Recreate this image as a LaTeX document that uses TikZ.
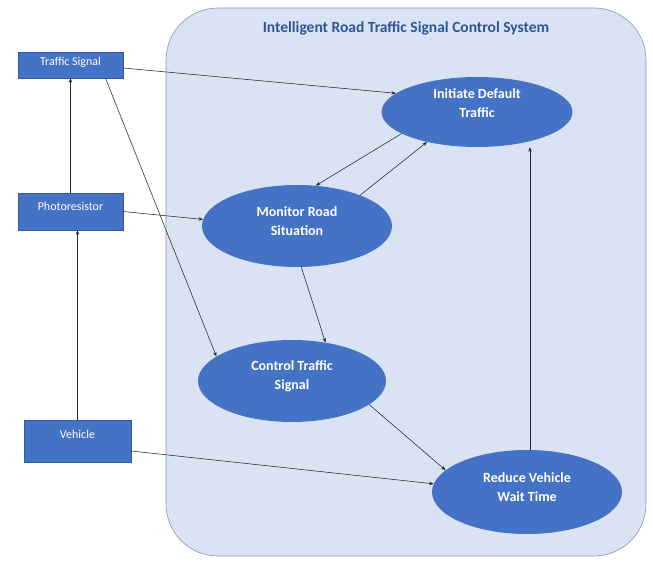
\documentclass[tikz,border=0pt]{standalone}
\usepackage{fontspec}
\setmainfont{Carlito}
\usetikzlibrary{arrows.meta,shapes.geometric}
\definecolor{nodeblue}{HTML}{4472C4}
\definecolor{sysfill}{HTML}{DAE3F3}
\definecolor{sysline}{HTML}{8497B0}
\definecolor{titleblue}{HTML}{2F5597}
\newcommand\liftup[2]{\raisebox{#1}[\height][\depth]{\begin{tabular}{@{}c@{}}#2\end{tabular}}}
\tikzset{
  boxnode/.style={draw=nodeblue!80!black, line width=0.4pt, fill=nodeblue, text=white, inner sep=0pt, font=\fontsize{12}{14}\selectfont},
  ellnode/.style={ellipse, fill=nodeblue, text=white, inner sep=0pt, font=\bfseries\fontsize{14}{19}\selectfont},
  conn/.style={draw=black!85, line width=0.55pt, -{Stealth[length=4.5pt,width=3.5pt]}}
}
\begin{document}
\begin{tikzpicture}[x=1pt,y=-1pt]
\useasboundingbox (0,0) rectangle (653,564);
% system boundary
\draw[sysline, fill=sysfill, line width=0.6pt, rounded corners=52pt] (166,8) rectangle (646,556);
\node[font=\bfseries\fontsize{15.5}{18}\selectfont, text=titleblue] (title) at (406,28) {Intelligent Road Traffic Signal Control System};
% actors
\node[boxnode, minimum width=105pt, minimum height=26pt] (ts) at (70.5,65) {\liftup{2pt}{Traffic Signal}};
\node[boxnode, minimum width=105pt, minimum height=37pt] (pr) at (70.5,211.5) {\liftup{4pt}{Photoresistor}};
\node[boxnode, minimum width=107pt, minimum height=42pt] (veh) at (77.5,441) {\liftup{5pt}{Vehicle}};
% use cases
\node[ellnode, minimum width=191pt, minimum height=70pt] (init) at (477,112) {\liftup{8pt}{Initiate Default\\Traffic}};
\node[ellnode, minimum width=190pt, minimum height=82pt] (mon) at (297,226) {\liftup{4pt}{Monitor Road\\Situation}};
\node[ellnode, minimum width=188pt, minimum height=82pt] (ctl) at (292,381) {\liftup{5pt}{Control Traffic\\Signal}};
\node[ellnode, minimum width=190pt, minimum height=84pt] (red) at (527,492) {\liftup{4pt}{Reduce Vehicle\\Wait Time}};
% connectors
\draw[conn] ([yshift=-3pt]ts.east) -- (init.167);
\draw[conn] ([xshift=35pt]ts.south) -- (ctl.162);
\draw[conn] (pr.north) -- (ts.south);
\draw[conn] (veh.north) -- (veh.north |- pr.south);
\draw[conn] (pr.east) -- (mon.176);
\draw[conn] (init.196) -- (mon.65);
\draw[conn] (mon.26) -- (init.211);
\draw[conn] (mon.-84) -- (ctl.49);
\draw[conn] (ctl.-17) -- (red.165);
\draw[conn] ([yshift=-10pt]veh.east) -- (red.175);
\draw[conn] ([xshift=3pt]red.north) -- ([xshift=3pt]red.north |- init.south);
\end{tikzpicture}
\end{document}
